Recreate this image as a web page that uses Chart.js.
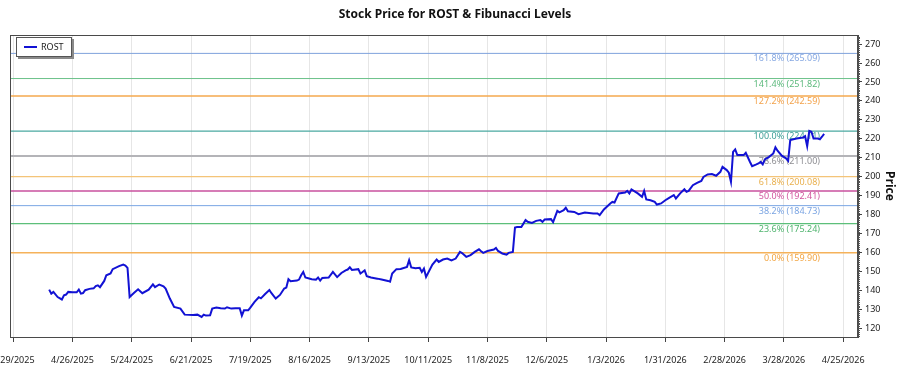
<!DOCTYPE html>
<html>
<head>
<meta charset="utf-8">
<title>ROST Fibonacci Levels</title>
<script src="https://cdn.jsdelivr.net/npm/chart.js"></script>
<style>
  html, body { margin: 0; padding: 0; background: #fff; }
  #wrap { width: 900px; height: 375px; }
</style>
</head>
<body>
<div id="wrap"><canvas id="rostChart" width="900" height="375"></canvas></div>
<script>
// closing prices
const dates = [
  "2025-04-15","2025-04-16","2025-04-17","2025-04-19","2025-04-21","2025-04-22","2025-04-23","2025-04-24","2025-04-26","2025-04-28","2025-04-29","2025-04-30",
  "2025-05-01","2025-05-02","2025-05-04","2025-05-06","2025-05-07","2025-05-08","2025-05-09","2025-05-11","2025-05-12","2025-05-14","2025-05-15","2025-05-18","2025-05-20","2025-05-21","2025-05-22","2025-05-23","2025-05-25","2025-05-27","2025-05-29",
  "2025-06-01","2025-06-03","2025-06-04","2025-06-06","2025-06-08","2025-06-09","2025-06-11","2025-06-13","2025-06-16","2025-06-18","2025-06-22","2025-06-24","2025-06-26","2025-06-27","2025-06-28","2025-06-30",
  "2025-07-01","2025-07-03","2025-07-05","2025-07-07","2025-07-08","2025-07-10","2025-07-12","2025-07-14","2025-07-15","2025-07-16","2025-07-18","2025-07-19","2025-07-21","2025-07-23","2025-07-24","2025-07-26","2025-07-28","2025-07-29","2025-07-31",
  "2025-08-02","2025-08-04","2025-08-05","2025-08-06","2025-08-07","2025-08-10","2025-08-11","2025-08-12","2025-08-13","2025-08-14","2025-08-17","2025-08-19","2025-08-20","2025-08-21","2025-08-22","2025-08-25","2025-08-27","2025-08-29","2025-08-31",
  "2025-09-02","2025-09-03","2025-09-04","2025-09-05","2025-09-08","2025-09-09","2025-09-10","2025-09-11","2025-09-12","2025-09-14","2025-09-17","2025-09-19","2025-09-22","2025-09-23","2025-09-24","2025-09-26","2025-09-28",
  "2025-10-01","2025-10-02","2025-10-03","2025-10-05","2025-10-07","2025-10-08","2025-10-09","2025-10-10","2025-10-13","2025-10-15","2025-10-16","2025-10-18","2025-10-20","2025-10-22","2025-10-24","2025-10-26","2025-10-27","2025-10-29","2025-10-31",
  "2025-11-02","2025-11-04","2025-11-05","2025-11-06","2025-11-08","2025-11-11","2025-11-12","2025-11-13","2025-11-15","2025-11-17","2025-11-18","2025-11-20","2025-11-21","2025-11-22","2025-11-24","2025-11-26","2025-11-27","2025-11-29",
  "2025-12-01","2025-12-03","2025-12-04","2025-12-05","2025-12-08","2025-12-09","2025-12-11","2025-12-12","2025-12-14","2025-12-15","2025-12-16","2025-12-19","2025-12-21","2025-12-24","2025-12-28","2025-12-30","2025-12-31",
  "2026-01-02","2026-01-05","2026-01-06","2026-01-07","2026-01-09","2026-01-12","2026-01-13","2026-01-14","2026-01-15","2026-01-18","2026-01-20","2026-01-21","2026-01-22","2026-01-24","2026-01-26","2026-01-27","2026-01-29","2026-01-31",
  "2026-02-02","2026-02-04","2026-02-05","2026-02-07","2026-02-09","2026-02-10","2026-02-11","2026-02-13","2026-02-15","2026-02-17","2026-02-18","2026-02-20","2026-02-22","2026-02-24","2026-02-26","2026-02-27",
  "2026-03-01","2026-03-02","2026-03-03","2026-03-04","2026-03-05","2026-03-06","2026-03-09","2026-03-10","2026-03-12","2026-03-13","2026-03-15","2026-03-16","2026-03-17","2026-03-18","2026-03-19","2026-03-21","2026-03-23","2026-03-24","2026-03-25","2026-03-27","2026-03-29","2026-03-30","2026-03-31",
  "2026-04-03","2026-04-06","2026-04-07","2026-04-08","2026-04-09","2026-04-10","2026-04-11","2026-04-13","2026-04-14","2026-04-15","2026-04-16"
];
const prices = [
  140.4,138.3,139.2,136.5,135.2,137.4,137.8,139.2,139.0,139.0,140.4,138.3,
  138.6,140.1,140.8,141.1,142.3,142.7,141.7,145.0,148.0,148.9,151.2,152.8,153.6,153.1,151.9,136.5,138.6,140.6,138.5,
  140.4,143.2,141.7,143.1,142.2,141.0,135.7,131.3,130.4,127.2,127.0,127.2,126.0,127.2,126.7,126.9,
  130.4,130.9,130.6,130.4,131.1,130.4,130.6,130.6,126.7,129.5,129.5,130.9,133.9,136.4,135.8,138.1,140.2,138.5,135.7,
  137.6,141.0,141.5,145.9,144.8,145.2,145.7,148.0,149.7,146.8,145.9,145.7,146.8,145.2,146.6,146.8,149.8,147.0,149.2,
  150.6,151.0,152.2,150.8,151.2,148.9,149.7,150.6,147.5,146.8,146.2,145.7,145.0,144.6,148.9,151.2,151.3,
  152.4,155.9,152.1,151.7,151.9,149.7,151.5,147.1,153.6,156.3,155.0,156.3,156.8,155.8,156.8,160.3,159.7,157.7,158.6,
  160.3,161.7,160.7,159.8,160.8,161.6,162.4,160.8,159.5,158.9,159.8,160.3,173.2,173.5,173.5,177.1,176.2,175.6,
  176.7,177.1,176.2,177.4,177.6,176.0,182.0,181.2,182.3,183.6,181.8,181.4,180.2,181.1,180.6,180.6,179.7,
  182.7,185.9,186.7,186.4,191.2,191.7,192.5,191.2,193.3,191.2,189.4,192.5,188.0,187.6,186.7,185.3,185.9,187.6,
  189.0,190.3,188.5,191.2,193.4,192.0,192.5,195.5,196.8,197.8,199.9,201.2,201.4,200.5,202.6,205.2,
  203.5,202.1,197.3,213.1,214.4,211.4,211.4,212.6,207.8,205.6,206.5,207.0,207.8,206.5,209.1,210.5,212.3,215.5,213.7,211.1,209.7,208.4,219.3,
  220.2,220.7,221.4,216.1,224.2,223.7,220.2,220.2,219.7,221.1,222.6
];

const fibLabels = ["161.8%", "141.4%", "127.2%", "100.0%", "78.6%", "61.8%", "50.0%", "38.2%", "23.6%", "0.0%"];
const fibValues = [265.09, 251.82, 242.59, 224.11, 211.00, 200.08, 192.41, 184.73, 175.24, 159.90];
const fibLineColors = ["#7fa2dc", "#6cc28a", "#f5a84e", "#4aa9a1", "#b4b4b8", "#f4c478", "#c9509e", "#7aa6e4", "#5cbf7a", "#f5b25a"];
const fibTextColors = ["#86a8e2", "#5cb97c", "#f3a24a", "#3d9f97", "#8e8e93", "#e9b04e", "#d2569f", "#7aa4e2", "#4fb46e", "#f2a542"];
const fibWidths = [1, 1, 1.5, 1.2, 2, 1.2, 1.5, 1, 1.2, 1.5];

const xTickDates = ["2025-03-29","2025-04-26","2025-05-24","2025-06-21","2025-07-19","2025-08-16","2025-09-13",
  "2025-10-11","2025-11-08","2025-12-06","2026-01-03","2026-01-31","2026-02-28","2026-03-28","2026-04-25"];
const yTicks = [120, 130, 140, 150, 160, 170, 180, 190, 200, 210, 220, 230, 240, 250, 260, 270];

const baseDate = "2025-03-29";
const toDay = s => (Date.parse(s) - Date.parse(baseDate)) / 86400000;
const fmtDay = d => {
  const dt = new Date(Date.parse(baseDate) + d * 86400000);
  return (dt.getUTCMonth() + 1) + "/" + dt.getUTCDate() + "/" + dt.getUTCFullYear();
};

const xMin = -1.5, xMax = 399;
const yMin = 115.4, yMax = 274.8;
const FONT = '"Noto Sans", "Open Sans", sans-serif';

const priceSet = {
  label: "ROST",
  data: dates.map((d, i) => ({ x: toDay(d), y: prices[i] })),
  borderColor: "#1212d4",
  borderWidth: 2,
  pointRadius: 0,
  tension: 0
};
const fibSets = fibValues.map((v, i) => ({
  label: fibLabels[i],
  data: [{ x: xMin, y: v }, { x: xMax, y: v }],
  borderColor: fibLineColors[i],
  borderWidth: fibWidths[i],
  pointRadius: 0
}));

// level labels sit under each line, drawn before the price line
const fibText = {
  id: "fibText",
  beforeDatasetsDraw(chart) {
    const { ctx, chartArea, scales } = chart;
    ctx.save();
    ctx.font = "9px " + FONT;
    ctx.textAlign = "right";
    ctx.textBaseline = "top";
    fibValues.forEach((v, i) => {
      ctx.fillStyle = fibTextColors[i];
      ctx.fillText(fibLabels[i] + " (" + v.toFixed(2) + ")", chartArea.right - 38, scales.y.getPixelForValue(v) + 1);
    });
    ctx.restore();
  }
};

// frame, minor y ticks and the boxed legend
const frame = {
  id: "frame",
  afterDraw(chart) {
    const { ctx, chartArea: a, scales } = chart;
    ctx.save();
    ctx.strokeStyle = "#4a4a4a";
    ctx.lineWidth = 1;
    ctx.strokeRect(a.left + 0.5, a.top + 0.5, a.right - a.left - 1, a.bottom - a.top);

    ctx.strokeStyle = "#555";
    ctx.beginPath();
    for (let v = Math.ceil(yMin); v <= yMax; v++) {
      const py = Math.round(scales.y.getPixelForValue(v)) + 0.5;
      ctx.moveTo(a.right, py);
      ctx.lineTo(a.right + 2, py);
    }
    ctx.stroke();

    const bx = a.left + 6, by = a.top + 2, bw = 56, bh = 20;
    ctx.fillStyle = "#8a8a8a";
    ctx.fillRect(bx + 2, by + 2, bw, bh);
    ctx.fillStyle = "#fff";
    ctx.fillRect(bx, by, bw, bh);
    ctx.strokeStyle = "#555";
    ctx.strokeRect(bx + 0.5, by + 0.5, bw - 1, bh - 1);
    ctx.strokeStyle = priceSet.borderColor;
    ctx.lineWidth = 2;
    ctx.beginPath();
    ctx.moveTo(bx + 8, by + 10);
    ctx.lineTo(bx + 21, by + 10);
    ctx.stroke();
    ctx.fillStyle = "#222";
    ctx.font = "9px " + FONT;
    ctx.textAlign = "left";
    ctx.textBaseline = "middle";
    ctx.fillText("ROST", bx + 25, by + 10);
    ctx.restore();
  }
};

new Chart(document.getElementById("rostChart"), {
  type: "line",
  data: { datasets: [priceSet, ...fibSets] },
  plugins: [fibText, frame],
  options: {
    responsive: false,
    animation: false,
    devicePixelRatio: 1,
    layout: { padding: { left: 10, right: 0, top: 0, bottom: 0 } },
    plugins: {
      legend: { display: false },
      tooltip: { enabled: false },
      title: {
        display: true,
        text: "Stock Price for ROST & Fibunacci Levels",
        color: "#111",
        font: { family: FONT, size: 12, weight: "bold" },
        padding: { top: 7, bottom: 13.6 }
      }
    },
    scales: {
      x: {
        type: "linear",
        min: xMin,
        max: xMax,
        afterBuildTicks: s => { s.ticks = xTickDates.map(d => ({ value: toDay(d) })); },
        afterFit: s => { s.paddingLeft = 0; s.paddingRight = 0; s.height = 38; },
        grid: { color: "#e6e6e6", tickColor: "#444", tickLength: 5 },
        border: { display: false },
        ticks: {
          autoSkip: false,
          maxRotation: 0,
          padding: 13,
          color: "#222",
          font: { family: FONT, size: 9 },
          callback: v => fmtDay(v)
        }
      },
      y: {
        position: "right",
        min: yMin,
        max: yMax,
        afterBuildTicks: s => { s.ticks = yTicks.map(v => ({ value: v })); },
        afterFit: s => { s.width = 42; s.paddingTop = 0; s.paddingBottom = 0; },
        grid: { drawOnChartArea: false, tickColor: "#444", tickLength: 4 },
        border: { display: true, color: "#4a4a4a" },
        ticks: { padding: 3, color: "#222", font: { family: FONT, size: 9 } },
        title: {
          display: true,
          text: "Price",
          color: "#111",
          font: { family: FONT, size: 12, weight: "bold" },
          padding: { top: 3, bottom: 0 }
        }
      }
    }
  }
});
</script>
</body>
</html>
